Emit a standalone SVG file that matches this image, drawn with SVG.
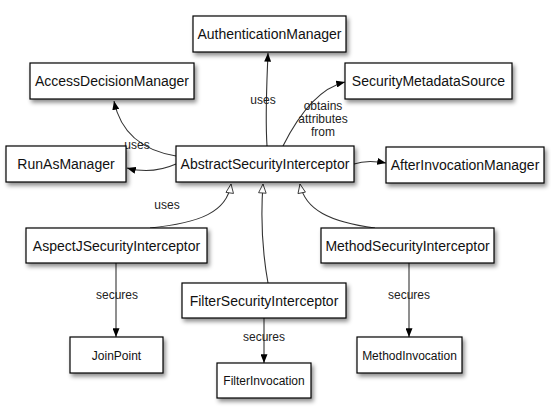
<svg xmlns="http://www.w3.org/2000/svg" width="551" height="413" viewBox="0 0 551 413">
<style>
.box{fill:#fff;stroke:#000;stroke-width:1.2;filter:url(#sh)}
.t{font-family:"Liberation Sans",Arial,sans-serif;font-size:14px;fill:#111;text-anchor:middle}
.ts{font-family:"Liberation Sans",Arial,sans-serif;font-size:12px;fill:#111;text-anchor:middle}
.lbl{font-family:"Liberation Sans",Arial,sans-serif;font-size:12px;fill:#222;text-anchor:middle}
.c{fill:none;stroke:#333;stroke-width:1.1}
.a{marker-end:url(#arr)}
.i{marker-end:url(#inh)}
</style>
<defs>
<filter id="sh" x="-10%" y="-20%" width="130%" height="160%">
<feDropShadow dx="2" dy="3" stdDeviation="2" flood-color="#000" flood-opacity="0.45"/>
</filter>
<marker id="arr" viewBox="0 0 10 8" refX="10" refY="4" markerWidth="9" markerHeight="7" markerUnits="userSpaceOnUse" orient="auto">
<path d="M0,0 L10,4 L0,8 Z" fill="#000"/>
</marker>
<marker id="inh" viewBox="0 0 12 10" refX="11" refY="5" markerWidth="11" markerHeight="9" markerUnits="userSpaceOnUse" orient="auto">
<path d="M1,0.8 L11,5 L1,9.2 Z" fill="#fff" stroke="#333" stroke-width="1"/>
</marker>
</defs>
<g id="connectors">
<path class="c a" d="M267,146 C265,115 267,80 268,53"/>
<path class="c a" d="M176,156 C140,150 120,130 114,101"/>
<path class="c a" d="M176,164 C158,172 142,172 127,168"/>
<path class="c a" d="M283,146 C300,112 320,88 345,82"/>
<path class="c a" d="M354,164 C365,160 375,161 386,163"/>
<path class="c i" d="M150,228 C200,223 227,212 231,184"/>
<path class="c i" d="M268,283 C262,250 261,212 263,184"/>
<path class="c i" d="M375,228 C330,222 305,210 300,184"/>
<path class="c a" d="M116,263 L116,337"/>
<path class="c a" d="M264,318 L264,363"/>
<path class="c a" d="M409,263 L409,337"/>
<text class="lbl" x="263" y="104">uses</text>
<text class="lbl" x="137" y="149">uses</text>
<text class="lbl" x="323" y="110">obtains</text>
<text class="lbl" x="323" y="123">attributes</text>
<text class="lbl" x="323" y="136">from</text>
<text class="lbl" x="167" y="209">uses</text>
<text class="lbl" x="117" y="299">secures</text>
<text class="lbl" x="264" y="341">secures</text>
<text class="lbl" x="409" y="299">secures</text>
</g>
<g id="AuthenticationManager"><rect class="box" x="193" y="16" width="153" height="36"/><text class="t" x="269.5" y="39">AuthenticationManager</text></g>
<g id="AccessDecisionManager"><rect class="box" x="30" y="63" width="164" height="36"/><text class="t" x="112" y="86">AccessDecisionManager</text></g>
<g id="SecurityMetadataSource"><rect class="box" x="345" y="63" width="167" height="36"/><text class="t" x="428.5" y="86">SecurityMetadataSource</text></g>
<g id="RunAsManager"><rect class="box" x="6" y="146" width="120" height="36"/><text class="t" x="66" y="169">RunAsManager</text></g>
<g id="AbstractSecurityInterceptor"><rect class="box" x="176" y="146" width="178" height="36"/><text class="t" x="265" y="169">AbstractSecurityInterceptor</text></g>
<g id="AfterInvocationManager"><rect class="box" x="386" y="147" width="158" height="36"/><text class="t" x="465" y="170">AfterInvocationManager</text></g>
<g id="AspectJSecurityInterceptor"><rect class="box" x="26" y="228" width="181" height="35"/><text class="t" x="116.5" y="250.5">AspectJSecurityInterceptor</text></g>
<g id="MethodSecurityInterceptor"><rect class="box" x="321" y="228" width="173" height="35"/><text class="t" x="407.5" y="250.5">MethodSecurityInterceptor</text></g>
<g id="FilterSecurityInterceptor"><rect class="box" x="182" y="283" width="164" height="35"/><text class="t" x="264" y="305.5">FilterSecurityInterceptor</text></g>
<g id="JoinPoint"><rect class="box" x="70" y="337" width="93" height="36"/><text class="ts" x="116.5" y="359.5">JoinPoint</text></g>
<g id="MethodInvocation"><rect class="box" x="357" y="337" width="105" height="36"/><text class="ts" x="409.5" y="359.5">MethodInvocation</text></g>
<g id="FilterInvocation"><rect class="box" x="217" y="363" width="94" height="35"/><text class="ts" x="264" y="385">FilterInvocation</text></g>
</svg>
